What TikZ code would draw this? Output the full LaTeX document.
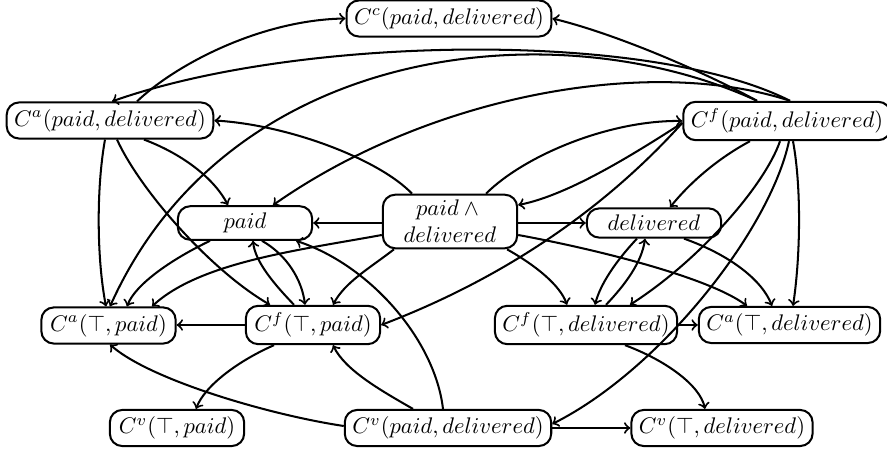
\documentclass[tikz,border=0pt]{standalone}
\usetikzlibrary{calc}
\begin{document}
\begin{tikzpicture}[x=0.443pt,y=-0.443pt,
  st/.style={draw, line width=0.9pt, rounded corners=5.5pt, minimum width=59.5pt, inner xsep=3.33pt, inner ysep=3pt, align=center},
  arr/.style={->, line width=0.9pt}]
\useasboundingbox (0,0) rectangle (887,451);
% nodes
\node[st] (Cc)    at (449,18.5)  {$C^c(paid, delivered)$};
\node[st] (Capd)  at (110,120.5) {$C^a(paid, delivered)$};
\node[st] (Cfpd)  at (787,121)   {$C^f(paid, delivered)$};
\node[st] (paid)  at (245,223)   {$paid$};
\node[st, inner ysep=2.4pt] (pd) at (450,221.5) {$paid\wedge{}$\\$delivered$};
\node[st] (deliv) at (654,223)   {$delivered$};
\node[st] (Catp)  at (108.5,325.5) {$C^a(\top, paid)$};
\node[st] (Cftp)  at (313,325)   {$C^f(\top, paid)$};
\node[st] (Cftd)  at (586,325)   {$C^f(\top, delivered)$};
\node[st] (Catd)  at (789.5,325) {$C^a(\top, delivered)$};
\node[st] (Cvtp)  at (177,428)   {$C^v(\top, paid)$};
\node[st] (Cvpd)  at (448,428)   {$C^v(paid, delivered)$};
\node[st] (Cvtd)  at (722,428)   {$C^v(\top, delivered)$};
% edges
\draw[arr] ($(Capd.north)+(27,0)$) .. controls (175,65) and (260,20) .. (Cc.west);
\draw[arr] ($(Cfpd.north)+(-30,0)$) .. controls (710,75) and (620,35) .. (Cc.east);
\draw[arr] ($(Cfpd.north)+(3,0)$) .. controls (650,30) and (300,35) .. ($(Capd.north)+(2,0)$);
\draw[arr] ($(Cfpd.north)+(-30,0)$) .. controls (560,10) and (230,40) .. ($(Catp.north)+(1.5,0)$);
\draw[arr] ($(Cfpd.north)+(3,0)$) .. controls (650,55) and (430,95) .. ($(paid.north)+(28,0)$);
\draw[arr] ($(pd.north)+(-38,0)$) .. controls (380,160) and (290,125) .. (Capd.east);
\draw[arr] (pd.west |- paid.east) -- (paid.east);
\draw[arr] (pd.east |- deliv.west) -- (deliv.west);
\draw[arr] ($(pd.north)+(36,0)$) .. controls (525,155) and (610,120) .. (Cfpd.west);
\draw[arr] ($(Cfpd.west)+(0,2)$) .. controls (640,150) and (570,195) .. ($(pd.east)+(0,-16.5)$);
\draw[arr] ($(Cfpd.west)+(0,2)$) .. controls (601,213) and (499,280) .. (Cftp.east);
\draw[arr] ($(Cfpd.south)+(-37,0)$) .. controls (715,160) and (688,185) .. ($(deliv.north)+(16,0)$);
\draw[arr] ($(Cfpd.south)+(-7,0)$) .. controls (765,185) and (700,260) .. ($(Cftd.north)+(44,0)$);
\draw[arr] ($(Cfpd.south)+(2,0)$) .. controls (770,230) and (660,370) .. ($(Cvpd.east)+(0,-4)$);
\draw[arr] ($(Cfpd.south)+(6,0)$) .. controls (802,190) and (800,260) .. ($(Catd.north)+(3.5,0)$);
\draw[arr] ($(pd.west)+(0,13.5)$) .. controls (300,250) and (200,262) .. ($(Catp.north)+(43.5,0)$);
\draw[arr] ($(paid.south)+(-35,0)$) .. controls (170,260) and (135,285) .. ($(Catp.north)+(18.5,0)$);
\draw[arr] ($(Capd.south)+(-5,0)$) .. controls (96,190) and (97,260) .. ($(Catp.north)+(-2.5,0)$);
\draw[arr] ($(Capd.south)+(7,0)$) .. controls (140,190) and (210,270) .. ($(Cftp.north)+(-43,0)$);
\draw[arr] ($(Capd.south)+(34,0)$) .. controls (185,155) and (215,180) .. ($(paid.north)+(-17,0)$);
\draw[arr] ($(Cftp.north)+(-19,0)$) .. controls (275,285) and (255,262) .. ($(paid.south)+(8,0)$);
\draw[arr] ($(paid.south)+(17,0)$) .. controls (287,255) and (302,280) .. ($(Cftp.north)+(-8,0)$);
\draw[arr] ($(pd.south)+(-56,0)$) .. controls (370,268) and (345,282) .. ($(Cftp.north)+(20,0)$);
\draw[arr] (Cftp.west) -- (Cftp.west -| Catp.east);
\draw[arr] ($(Cftp.south)+(-39,0)$) .. controls (240,360) and (205,385) .. ($(Cvtp.north)+(19,0)$);
\draw[arr] ($(Cvpd.west)+(0,-2)$) .. controls (270,415) and (150,380) .. ($(Catp.south)+(1.5,0)$);
\draw[arr] ($(Cvpd.north)+(-35,0)$) .. controls (380,390) and (345,370) .. ($(Cftp.south)+(20,0)$);
\draw[arr] ($(Cvpd.north)+(-5,0)$) .. controls (435,340) and (370,265) .. ($(paid.south)+(51,0)$);
\draw[arr] (Cvpd.east) -- (Cvtd.west);
\draw[arr] ($(pd.south)+(57,0)$) .. controls (535,265) and (560,285) .. ($(Cftd.north)+(-19,0)$);
\draw[arr] ($(pd.east)+(0,13.5)$) .. controls (600,250) and (710,278) .. ($(Catd.north)+(-42.5,0)$);
\draw[arr] ($(deliv.south)+(-17,0)$) .. controls (615,262) and (600,285) .. ($(Cftd.north)+(9,0)$);
\draw[arr] ($(Cftd.north)+(20,0)$) .. controls (625,285) and (642,262) .. ($(deliv.south)+(-9,0)$);
\draw[arr] ($(deliv.south)+(30,0)$) .. controls (730,255) and (762,280) .. ($(Catd.north)+(-17.5,0)$);
\draw[arr] (Cftd.east) -- (Cftd.east -| Catd.west);
\draw[arr] ($(Cftd.south)+(39,0)$) .. controls (665,360) and (700,385) .. ($(Cvtd.north)+(-17,0)$);
\end{tikzpicture}
\end{document}
